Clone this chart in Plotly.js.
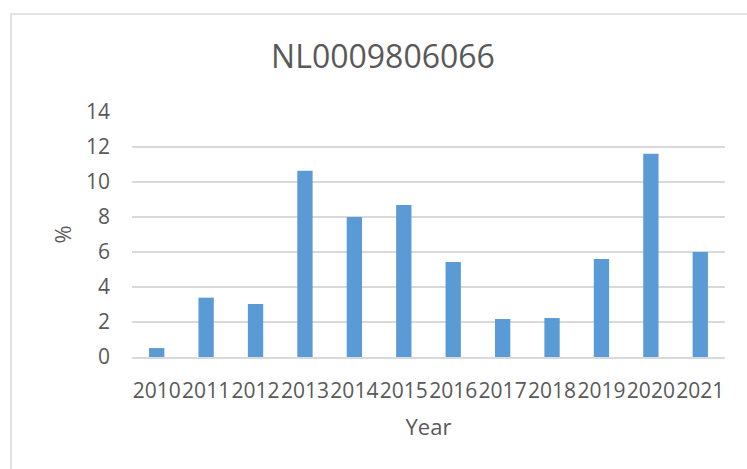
<!DOCTYPE html>
<html>
<head>
<meta charset="utf-8">
<script src="https://cdn.plot.ly/plotly-3.0.1.min.js"></script>
<style>
html,body{margin:0;padding:0;background:#fff;}
#chart{width:747px;height:469px;}
</style>
</head>
<body>
<div id="chart"></div>
<script>
const years = ["2010","2011","2012","2013","2014","2015","2016","2017","2018","2019","2020","2021"];
const values = [0.51, 3.39, 3.03, 10.65, 8.0, 8.69, 5.43, 2.17, 2.23, 5.6, 11.62, 6.0];
const yTicks = [0, 2, 4, 6, 8, 10, 12, 14];
const chartTitle = "NL0009806066";
const xTitle = "Year";
const yTitle = "%";

const W = 747, H = 469;
const L = 132, R = 22, T = 112, B = 112;
const pw = W - L - R, ph = H - T - B;
const bx = (11 - L) / pw, by = 1 + (T - 14) / ph;

const textColor = "#595959";
const fontFam = "'Open Sans', 'Liberation Sans', sans-serif";

Plotly.newPlot("chart", [{
  type: "bar",
  x: years,
  y: values,
  marker: {color: "#5B9BD5"},
  hoverinfo: "x+y"
}], {
  width: W, height: H,
  margin: {l: L, r: R, t: T, b: B, pad: 0},
  paper_bgcolor: "#fff",
  plot_bgcolor: "#fff",
  bargap: 0.69,
  showlegend: false,
  font: {family: fontFam, color: textColor},
  title: {
    text: chartTitle,
    font: {size: 32, color: textColor, family: fontFam},
    xref: "container", x: 383 / W, xanchor: "center",
    yref: "container", y: 1 - 57 / H, yanchor: "middle"
  },
  xaxis: {
    type: "category",
    tickangle: 0,
    tickfont: {size: 21, color: textColor},
    showgrid: false,
    showline: true,
    linecolor: "#D9D9D9",
    linewidth: 1.5,
    ticks: "",
    ticklabelstandoff: 14,
    title: {text: xTitle, font: {size: 22, color: textColor}, standoff: 17}
  },
  yaxis: {
    range: [0, 14],
    tickvals: yTicks,
    tickfont: {size: 21, color: textColor},
    showgrid: true,
    gridcolor: "#D9D9D9",
    gridwidth: 1.5,
    zeroline: false,
    showline: false,
    ticks: "",
    ticklabelstandoff: 21,
    title: {text: yTitle, font: {size: 22, color: textColor}, standoff: 8}
  },
  shapes: [{
    type: "path",
    xref: "paper", yref: "paper",
    path: `M ${bx} -1 L ${bx} ${by} L 1.2 ${by}`,
    line: {color: "#D9D9D9", width: 1.5}
  }]
}, {displayModeBar: false, staticPlot: false});
</script>
</body>
</html>
